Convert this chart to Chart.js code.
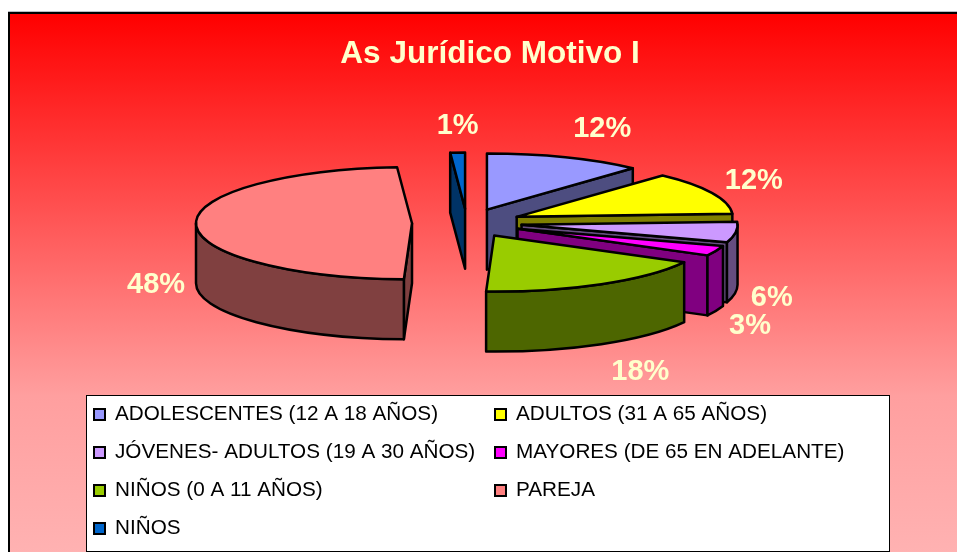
<!DOCTYPE html>
<html>
<head>
<meta charset="utf-8">
<title>As Jurídico Motivo I</title>
<script src="https://cdn.jsdelivr.net/npm/chart.js@4/dist/chart.umd.min.js"></script>
<style>
    html, body { margin: 0; padding: 0; background: #fff; overflow: hidden; }
    #frame {
        position: absolute; left: 8px; top: 12px; width: 949px; height: 540px;
        box-sizing: border-box;
        border-left: 2px solid #000;
        border-top: 2px solid #000;
        box-shadow: 0 -1px 0 #b8bcc4;
        background: linear-gradient(to bottom, #ff0000 0px, #ff9f9f 382px, #ffb2b2 540px);
    }
    canvas { position: absolute; left: 0; top: 0; }
</style>
</head>
<body>
<div id="frame"></div>
<canvas id="pieChart" width="957" height="552"></canvas>
<script>
const chartTitle = 'As Jurídico Motivo I';
const categories = [
    'ADOLESCENTES (12 A 18 AÑOS)',
    'ADULTOS (31 A 65 AÑOS)',
    'JÓVENES- ADULTOS (19 A 30 AÑOS)',
    'MAYORES (DE 65 EN ADELANTE)',
    'NIÑOS (0 A 11 AÑOS)',
    'PAREJA',
    'NIÑOS'
];
const percentages = [11.8, 12.3, 5.9, 2.9, 17.7, 48.3, 1.1];
const topColors = ['#9999FF', '#FFFF00', '#CC99FF', '#FF00FF', '#99CC00', '#FF8080', '#0066CC'];
const sideColors = ['#4D4D80', '#808000', '#664D80', '#800080', '#4D6600', '#804040', '#003366'];

// back to front, so the nearer slices cover the others
const drawOrder = [6, 5, 0, 1, 2, 3, 4];
// excel put the labels by hand, distance from the rim of each slice
const labelNudge = [[37, -28], [42, -12], [36, 66], [34, 75], [39, 88], [-40, 61], [0, -27]];

const squash = 0.26;
const depth = 60;
const labelColor = '#FFFFCC';

function slicePoints(arc) {
    const p = arc.getProps(['x', 'y', 'startAngle', 'endAngle', 'outerRadius']);
    const mid = (p.startAngle + p.endAngle) / 2;
    const off = arc.options.offset;
    return {
        ax: p.x + Math.cos(mid) * off,
        ay: p.y + Math.sin(mid) * off * squash,
        rx: p.outerRadius,
        ry: p.outerRadius * squash,
        a0: p.startAngle,
        a1: p.endAngle,
        mid: mid
    };
}

function drawSlice(ctx, s, top, side) {
    const rimX = a => s.ax + s.rx * Math.cos(a);
    const rimY = a => s.ay + s.ry * Math.sin(a);

    // straight cut faces, only the ones turned towards us
    const faces = [];
    if (s.a0 > Math.PI / 2) faces.push(s.a0);
    if (s.a1 < Math.PI / 2) faces.push(s.a1);
    ctx.fillStyle = side;
    faces.forEach(a => {
        ctx.beginPath();
        ctx.moveTo(s.ax, s.ay);
        ctx.lineTo(rimX(a), rimY(a));
        ctx.lineTo(rimX(a), rimY(a) + depth);
        ctx.lineTo(s.ax, s.ay + depth);
        ctx.closePath();
        ctx.fill();
        ctx.stroke();
    });

    // outer wall, front half of the ellipse only
    const from = Math.max(s.a0, 0);
    const to = Math.min(s.a1, Math.PI);
    if (to > from) {
        ctx.beginPath();
        ctx.ellipse(s.ax, s.ay, s.rx, s.ry, 0, from, to);
        ctx.ellipse(s.ax, s.ay + depth, s.rx, s.ry, 0, to, from, true);
        ctx.closePath();
        ctx.fill();
        ctx.stroke();
    }

    ctx.fillStyle = top;
    ctx.beginPath();
    ctx.moveTo(s.ax, s.ay);
    ctx.ellipse(s.ax, s.ay, s.rx, s.ry, 0, s.a0, s.a1);
    ctx.closePath();
    ctx.fill();
    ctx.stroke();
}

const pie3d = {
    id: 'pie3d',
    beforeDatasetsDraw(chart) {
        const ctx = chart.ctx;
        const arcs = chart.getDatasetMeta(0).data;
        const slices = arcs.map(slicePoints);

        ctx.save();
        ctx.strokeStyle = '#000';
        ctx.lineWidth = 2.5;
        ctx.lineJoin = 'round';
        drawOrder.forEach(i => drawSlice(ctx, slices[i], topColors[i], sideColors[i]));

        ctx.fillStyle = labelColor;
        ctx.font = 'bold 29px "Liberation Sans"';
        ctx.textAlign = 'center';
        ctx.textBaseline = 'middle';
        slices.forEach((s, i) => {
            const x = s.ax + s.rx * Math.cos(s.mid) + labelNudge[i][0];
            const y = s.ay + s.ry * Math.sin(s.mid) + labelNudge[i][1];
            ctx.fillText(Math.round(percentages[i]) + '%', x, y);
        });
        ctx.restore();
        return false;
    },
    afterDraw(chart) {
        const ctx = chart.ctx;
        ctx.save();

        ctx.fillStyle = labelColor;
        ctx.font = 'bold 31.5px "Liberation Sans"';
        ctx.textAlign = 'center';
        ctx.textBaseline = 'middle';
        ctx.fillText(chartTitle, 490, 54);

        // legend box
        ctx.fillStyle = '#fff';
        ctx.strokeStyle = '#000';
        ctx.lineWidth = 1;
        ctx.fillRect(86.5, 395.5, 803, 156);
        ctx.strokeRect(86.5, 395.5, 803, 156);

        ctx.font = '20.7px "Liberation Sans"';
        ctx.textAlign = 'left';
        categories.forEach((name, i) => {
            const col = i % 2;
            const row = Math.floor(i / 2);
            const y = 414 + row * 38;
            const x = col === 0 ? 94 : 495;
            ctx.fillStyle = topColors[i];
            ctx.lineWidth = 2;
            ctx.fillRect(x, y - 5, 11, 11);
            ctx.strokeRect(x, y - 5, 11, 11);
            ctx.fillStyle = '#000';
            ctx.fillText(name, x + 21, y);
        });
        ctx.restore();
    }
};

new Chart(document.getElementById('pieChart'), {
    type: 'pie',
    data: {
        labels: categories,
        datasets: [{
            data: percentages,
            backgroundColor: topColors,
            offset: 55
        }]
    },
    options: {
        responsive: false,
        animation: false,
        radius: 216,
        layout: { padding: { right: 23, bottom: 106 } },
        plugins: {
            legend: { display: false },
            title: { display: false },
            tooltip: { enabled: false }
        }
    },
    plugins: [pie3d]
});
</script>
</body>
</html>
